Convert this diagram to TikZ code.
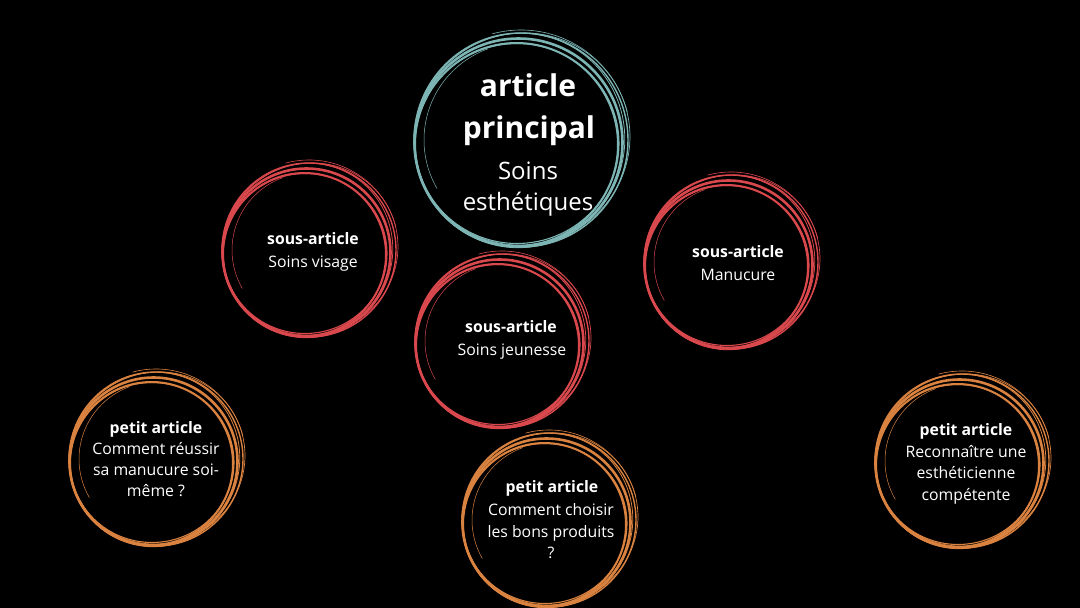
\documentclass[tikz,border=0pt]{standalone}
\usepackage{fontspec}
\setmainfont{Open Sans}
\definecolor{teal1}{HTML}{7DB4B4}
\definecolor{red1}{HTML}{D9484D}
\definecolor{orange1}{HTML}{DA8240}
\tikzset{
  x=1pt, y=-1pt,
  pics/ring/.style n args={2}{code={
    \begin{scope}[draw=#2, line cap=round]
      \draw[line width=2.6] (-2.5,2.5) circle[radius=#1-3];
      \draw[line width=2.0] (-4.5,4.5) circle[radius=#1-5.5];
      \draw[line width=1.4] (0,0) circle[radius=#1];
      \draw[line width=1.1] (-4,3.5) circle[x radius=#1-5, y radius=#1-7];
      \draw[line width=0.7] (1,-1) circle[x radius=#1+1.5, y radius=#1-1.5, rotate=25];
      \draw[line width=0.8] (-1.5,0.5) circle[x radius=#1-2, y radius=#1+0.5, rotate=-20];
      \draw[line width=0.6] (-105:#1+3) arc[start angle=-105, end angle=-15, radius=#1+3];
      \draw[line width=0.5] (150:#1-10) arc[start angle=150, end angle=250, radius=#1-10];
    \end{scope}
  }},
  hd/.style={text=white, anchor=base, inner sep=0pt, font=\fontsize{15.8}{18}\selectfont\bfseries},
  tx/.style={text=white, anchor=base, inner sep=0pt, font=\fontsize{15.8}{18}\selectfont},
  bighd/.style={text=white, anchor=base, inner sep=0pt, font=\fontsize{30}{36}\selectfont\bfseries},
  bigtx/.style={text=white, anchor=base, inner sep=0pt, font=\fontsize{24}{30}\selectfont},
}
\begin{document}
\begin{tikzpicture}
\fill[black] (0,0) rectangle (1080,608);
\useasboundingbox (0,0) rectangle (1080,608);

% rings
\pic (rmain) at (521,140) {ring={107}{teal1}};
\pic (rvis) at (309,250) {ring={87}{red1}};
\pic (rman) at (731,262) {ring={87}{red1}};
\pic (rjeu) at (502,341) {ring={87}{red1}};
\pic (rreu) at (156,459) {ring={87}{orange1}};
\pic (rcho) at (549,520) {ring={87}{orange1}};
\pic (rrec) at (962,461) {ring={87}{orange1}};

% main
\node[bighd] (m1) at (528,96) {article};
\node[bighd] (m2) at (529,138) {principal};
\node[bigtx] (m3) at (528,179) {Soins};
\node[bigtx] (m4) at (528,210) {esthétiques};

% sous-articles
\node[hd] (v1) at (313,244) {sous-article};
\node[tx] (v2) at (313,267) {Soins visage};

\node[hd] (n1) at (738,257) {sous-article};
\node[tx] (n2) at (738,280) {Manucure};

\node[hd] (j1) at (511,332) {sous-article};
\node[tx] (j2) at (512,355) {Soins jeunesse};

% petits articles
\node[hd] (a1) at (156,433) {petit article};
\node[tx] (a2) at (156,454) {Comment réussir};
\node[tx] (a3) at (156,475) {sa manucure soi-};
\node[tx] (a4) at (156,496) {même ?};

\node[hd] (b1) at (552,492) {petit article};
\node[tx] (b2) at (551,515) {Comment choisir};
\node[tx] (b3) at (551,537) {les bons produits};
\node[tx] (b4) at (551,558) {?};

\node[hd] (c1) at (966,435) {petit article};
\node[tx] (c2) at (966,457) {Reconnaître une};
\node[tx] (c3) at (966,478) {esthéticienne};
\node[tx] (c4) at (966,500) {compétente};
\end{tikzpicture}
\end{document}
